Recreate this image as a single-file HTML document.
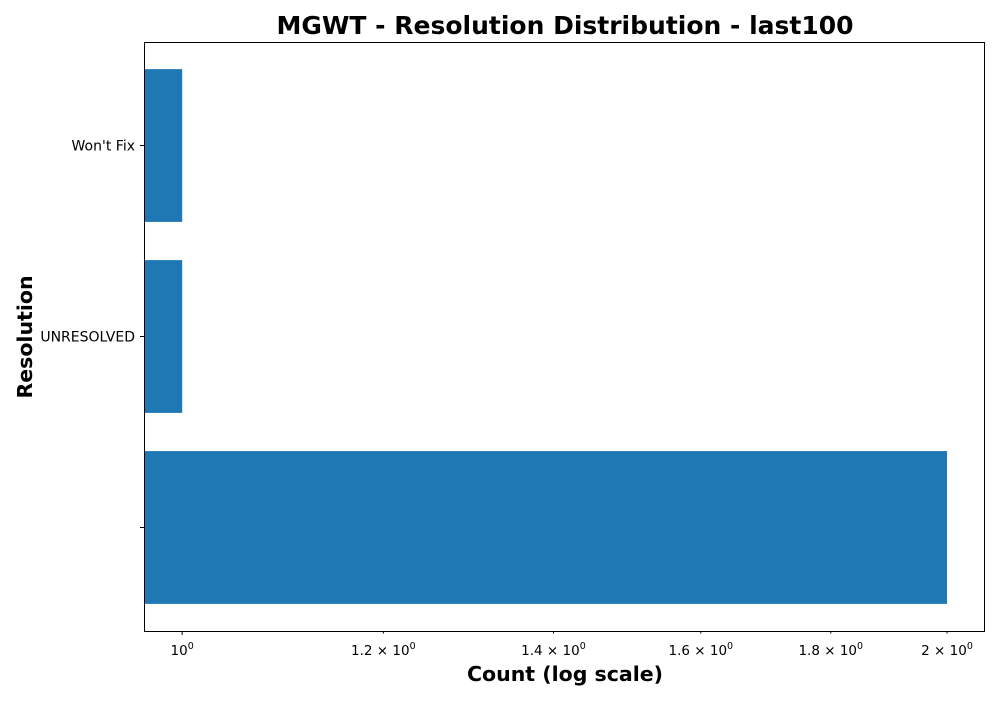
<!DOCTYPE html>
<html><head><meta charset="utf-8"><style>
body{margin:0;background:#fff;font-family:"DejaVu Sans","Liberation Sans",sans-serif}
</style></head><body>
<svg width="1000" height="700" xmlns="http://www.w3.org/2000/svg" id="svg" font-family="DejaVu Sans, Liberation Sans, sans-serif">
<text x="565" y="34" text-anchor="middle" font-size="25" font-weight="bold">MGWT - Resolution Distribution - last100</text>
<text x="565" y="681" text-anchor="middle" font-size="20.5" font-weight="bold">Count (log scale)</text>
<text transform="translate(32,337) rotate(-90)" text-anchor="middle" font-size="20.5" font-weight="bold">Resolution</text>
<g id="bars"></g><g id="ticks"></g>
<rect x="144.5" y="42.5" width="840" height="589" fill="none" stroke="#000" stroke-width="1"/>
</svg>
<script>
const categories = ["", "UNRESOLVED", "Won't Fix"];
const counts = [2, 1, 1];
const tickValues = [1, 1.2, 1.4, 1.6, 1.8, 2];
const tickMantissas = ["", "1.2", "1.4", "1.6", "1.8", "2"];
const L=144,R=985,T=42,B=631;
const xmin=Math.log10(0.966), xmax=Math.log10(2.07);
const x=v=>L+(Math.log10(v)-xmin)/(xmax-xmin)*(R-L);
const pad=0.542;
const band=(B-T)/(categories.length-1+2*pad);
const y=i=>B-band*(i+pad);
const NS="http://www.w3.org/2000/svg";
const bars=document.getElementById('bars'), ticks=document.getElementById('ticks');
function mk(tag,attrs,parent){const e=document.createElementNS(NS,tag);for(const k in attrs)e.setAttribute(k,attrs[k]);parent.appendChild(e);return e;}
categories.forEach((c,i)=>{
  const h=band*0.8;
  const r=mk('rect',{x:L,y:y(i)-h/2,width:Math.max(0,x(counts[i])-L),height:h,fill:'#1f77b4'},bars);
  
  
  const t=mk('line',{x1:L-4,x2:L,y1:y(i),y2:y(i),stroke:'#000'},ticks);
  
  
  const lb=mk('text',{x:L-9,y:y(i)+5,'text-anchor':'end','font-size':14},ticks);
  lb.textContent=c;
  
  
});
tickValues.forEach((v,i)=>{
  const px=x(v);
  const t=mk('line',{x1:px,x2:px,y1:B,y2:B+(i==0?4:2.5),stroke:'#000'},ticks);
  
  
  const lb=mk('text',{x:px,y:B+24,'text-anchor':'middle','font-size':13.5},ticks);
  
  
  const m=tickMantissas[i];
  lb.textContent=(m?m+' \u00d7 ':'')+'10';
  const s=mk('tspan',{dy:-6,'font-size':9.5},lb);s.textContent='0';
});
</script>
</body></html>
